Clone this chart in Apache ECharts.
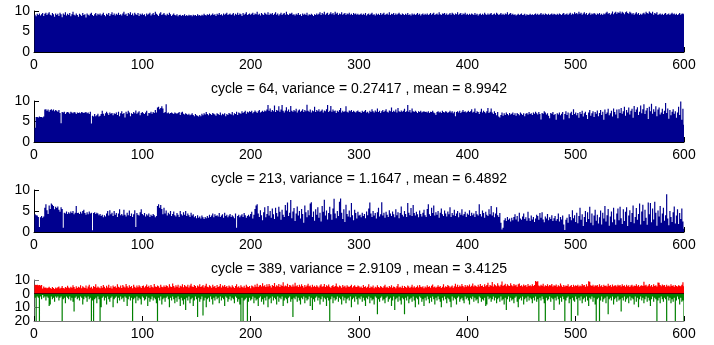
<!DOCTYPE html>
<html>
<head>
<meta charset="utf-8">
<script src="https://cdn.jsdelivr.net/npm/echarts@6/dist/echarts.min.js"></script>
<style>
  html, body { margin: 0; padding: 0; background: #fff; }
  #chart { width: 714px; height: 345px; }
</style>
</head>
<body>
<div id="chart"></div>
<script>
// xlabels under each of the first three panels
const labels = [
  'cycle = 64, variance = 0.27417 , mean = 8.9942',
  'cycle = 213, variance = 1.1647 , mean = 6.4892',
  'cycle = 389, variance = 2.9109 , mean = 3.4125'
];
const xTicks = [0, 100, 200, 300, 400, 500, 600];
// panel 4 y labels are absolute values, split over two axes so none gets hidden
const p4LabelsA = [10, -20];
const p4LabelsB = [0, -10];

// panel 1 (cycle 64)
const cycle64 = [
  9.1,8.7,9.3,9.0,9.4,8.9,9.2,9.5,8.8,9.3,9.6,9.0,9.4,9.7,9.1,8.9,9.5,9.2,8.6,9.4,
  9.0,9.3,8.8,9.6,9.2,8.5,9.4,9.1,9.7,8.9,9.3,9.0,9.5,8.7,9.2,9.8,9.1,8.9,9.4,9.0,
  8.6,9.3,9.1,8.8,9.5,9.0,9.2,8.4,9.4,9.1,8.9,9.3,9.6,9.0,8.8,9.2,9.5,8.9,9.3,9.1,
  9.4,8.9,9.2,9.6,9.0,8.7,9.3,9.1,9.5,8.8,9.2,9.7,9.0,9.4,8.9,9.3,9.1,9.6,9.0,9.2,
  8.9,9.4,9.8,9.1,9.3,8.8,9.5,9.2,9.7,9.0,9.4,8.9,9.6,9.2,9.0,9.5,8.8,9.3,9.1,9.4,
  9.0,9.2,8.7,9.4,9.1,9.3,9.6,8.9,9.2,9.5,9.0,9.8,9.3,9.1,8.8,9.4,9.7,9.0,9.2,9.5,
  9.1,8.9,9.3,9.0,9.6,9.2,8.8,9.1,9.4,9.0,8.9,9.2,8.7,9.0,9.1,8.8,9.0,8.9,9.2,8.8,
  9.0,8.8,9.1,8.9,9.0,8.7,9.1,8.9,9.0,8.8,9.2,8.9,9.0,8.8,9.1,8.9,9.3,9.0,8.9,9.2,
  9.0,9.3,8.9,9.1,9.4,9.0,9.2,8.8,9.3,9.1,9.5,9.0,9.2,8.9,9.4,9.1,9.3,9.6,9.0,9.2,
  9.4,9.0,9.2,9.5,8.9,9.3,9.1,9.6,9.0,9.4,9.2,8.8,9.5,9.1,9.3,9.7,9.0,9.2,9.4,9.1,
  9.3,9.6,9.0,9.4,9.2,9.8,9.1,9.3,8.9,9.5,9.2,9.0,9.6,9.3,9.1,9.7,9.0,9.4,9.2,9.5,
  9.0,9.3,9.7,9.1,9.4,8.9,9.2,9.6,9.0,9.3,9.5,9.1,9.8,9.2,9.0,9.4,9.3,9.6,9.1,9.2,
  8.9,9.3,9.1,9.5,9.0,9.2,8.8,9.4,9.1,9.3,9.0,9.6,8.9,9.2,9.0,9.3,9.1,8.8,9.2,9.0,
  9.4,9.1,9.3,9.7,9.0,9.5,9.2,9.8,9.1,9.4,9.6,9.0,9.3,9.7,9.2,9.5,9.1,9.8,9.3,9.6,
  9.0,9.4,9.2,9.7,9.1,9.3,9.5,9.0,9.4,9.2,9.6,9.1,9.3,9.0,9.5,9.2,9.4,9.1,9.3,9.0,
  9.2,9.4,9.0,9.3,9.1,9.5,8.9,9.2,9.4,9.0,9.3,9.6,9.1,9.2,8.9,9.4,9.1,9.3,9.0,9.5,
  9.1,9.3,9.6,9.0,9.2,9.4,9.1,9.7,9.0,9.3,9.2,9.5,9.0,9.4,9.1,9.3,9.6,9.2,9.0,9.4,
  9.2,9.0,9.3,9.1,9.5,9.0,9.2,8.9,9.4,9.1,9.3,9.0,9.2,9.5,9.1,9.3,8.9,9.2,9.4,9.0,
  9.3,9.1,9.4,9.0,9.2,9.5,9.1,9.3,9.6,9.0,9.2,9.4,9.1,9.7,9.2,9.0,9.4,9.3,9.5,9.1,
  9.4,9.0,9.2,9.5,9.1,9.6,9.3,9.0,9.4,9.2,9.7,9.1,9.3,9.5,9.0,9.4,9.2,9.6,9.1,9.3,
  9.0,9.3,9.1,9.4,9.2,9.0,9.5,9.1,9.3,8.9,9.2,9.4,9.0,9.3,9.1,9.6,9.2,9.0,9.4,9.1,
  9.3,9.5,9.0,9.2,9.4,9.1,9.6,9.3,9.0,9.2,9.5,9.1,9.3,9.0,9.4,9.2,9.7,9.1,9.3,9.5,
  9.1,9.3,9.0,9.2,8.9,9.1,9.3,9.0,9.2,9.4,9.0,9.1,9.3,8.9,9.2,9.0,9.1,9.3,9.0,9.2,
  9.0,9.2,9.4,9.1,9.3,9.0,9.2,9.5,9.1,9.3,9.0,9.4,9.2,9.1,9.3,9.0,9.2,9.4,9.1,9.3,
  9.2,9.0,9.3,9.1,9.4,9.2,9.0,9.3,9.5,9.1,9.2,9.4,9.0,9.3,9.6,9.1,9.4,9.2,9.7,9.3,
  9.5,9.2,9.8,9.3,9.6,9.1,9.4,9.7,9.2,9.5,9.0,9.3,9.6,9.1,9.4,9.2,9.5,9.3,9.0,9.4,
  9.2,9.5,9.1,9.3,9.0,9.4,9.2,9.6,9.8,9.3,9.5,9.1,9.4,9.9,9.2,9.6,9.8,9.3,9.7,9.5,
  9.9,9.4,9.8,9.6,9.2,9.7,9.9,9.5,9.3,9.8,9.6,9.2,9.5,9.1,9.4,9.7,9.2,9.5,9.0,9.3,
  9.1,9.4,9.6,9.2,9.8,9.5,9.3,9.9,9.6,9.4,9.8,9.1,9.5,9.3,9.7,9.0,9.2,9.4,9.1,9.3,
  9.0,9.3,9.5,9.1,9.2,9.4,9.0,9.3,9.6,9.2,9.4,9.1,9.3,9.0,9.2,9.5,9.1,9.3,9.4,9.2
];

// panel 2 (cycle 213)
const cycle213 = [
  3.5,6.1,6.1,6.0,6.2,6.1,6.1,6.0,6.2,7.9,8.0,7.6,7.9,7.4,7.8,8.0,7.7,7.9,7.5,7.8,
  7.6,7.4,7.8,7.1,4.6,7.3,7.2,7.4,6.8,7.2,7.3,7.2,6.9,7.4,7.2,7.0,7.3,7.2,6.8,7.2,
  7.1,7.2,7.0,7.3,7.2,7.1,7.2,7.3,7.0,7.2,6.8,7.4,4.5,6.4,6.2,6.8,6.3,6.5,6.9,6.2,
  6.4,6.8,7.6,6.9,6.4,7.0,7.4,7.0,6.6,7.2,6.9,7.1,6.5,7.0,6.8,7.2,6.6,7.4,6.3,7.0,
  7.5,6.8,7.1,6.0,7.4,6.9,7.6,7.2,6.3,7.0,6.8,7.3,7.0,7.7,6.9,7.2,7.5,6.5,7.1,7.3,
  7.0,6.8,7.2,7.6,6.4,7.1,7.0,7.4,6.9,7.3,7.1,7.8,7.2,8.4,8.6,8.0,8.3,8.7,8.2,7.1,
  7.3,9.2,7.0,7.2,6.9,7.1,7.2,7.0,6.8,7.2,7.0,6.9,7.1,7.3,6.6,7.2,7.4,6.9,6.7,7.0,
  6.8,6.6,6.9,6.5,6.7,7.0,6.6,6.3,6.8,6.5,6.4,6.2,6.6,6.3,6.9,6.5,7.0,6.7,7.3,6.8,
  6.5,7.0,6.8,6.6,7.1,6.9,6.7,6.4,7.0,6.8,6.6,7.2,6.5,6.9,6.7,7.0,6.3,6.8,6.6,7.1,
  6.9,6.7,7.3,6.5,7.0,6.8,7.4,6.6,7.2,7.0,6.9,7.5,7.1,7.3,7.6,6.9,7.4,7.2,7.5,7.3,
  7.6,7.0,7.3,7.7,7.4,7.1,7.5,7.8,7.2,7.4,7.6,7.3,7.7,7.5,7.9,9.0,7.6,8.2,7.4,7.8,
  7.5,8.9,7.3,7.8,7.6,8.7,7.4,7.9,9.0,7.6,7.2,7.7,8.5,7.5,7.9,7.3,8.8,7.6,7.4,7.8,
  7.5,8.1,7.2,7.7,7.9,7.4,7.6,8.0,7.3,7.8,7.5,9.1,7.6,7.4,7.9,7.2,7.7,7.5,8.6,7.3,
  7.8,7.5,8.0,7.4,7.6,7.9,7.2,7.7,7.5,8.0,9.0,7.3,7.6,8.8,7.4,7.9,7.5,7.7,7.1,7.6,
  7.4,7.8,8.3,7.2,7.6,7.3,7.5,8.7,7.4,7.2,7.7,7.5,7.8,7.3,7.6,7.4,7.2,7.5,7.7,7.3,
  7.4,7.1,7.6,7.3,7.5,7.8,7.2,7.4,7.0,7.6,7.3,8.0,7.5,7.2,7.7,7.4,8.2,7.3,7.6,7.1,
  7.5,7.8,7.3,7.6,8.0,7.4,7.2,7.7,7.5,8.4,7.3,7.6,7.4,7.9,7.2,8.3,7.5,7.3,7.7,7.4,
  7.6,8.1,7.3,7.5,9.0,7.4,7.8,7.2,8.2,7.5,7.3,7.6,7.4,7.1,7.5,7.3,7.6,7.2,7.4,7.5,
  7.3,7.4,7.2,7.5,7.1,7.4,7.3,7.6,7.2,7.0,6.6,7.3,7.5,7.2,7.4,7.1,7.6,7.3,7.2,7.5,
  7.4,7.1,7.3,7.6,7.2,7.5,7.0,7.4,6.3,7.3,7.5,7.2,7.6,7.1,7.4,7.8,7.3,7.5,7.2,7.4,
  7.6,7.3,7.5,8.0,7.2,7.4,8.2,7.1,7.5,7.3,6.8,7.4,8.1,7.2,7.6,7.3,7.0,7.5,8.3,7.1,
  7.4,8.2,7.2,6.8,7.5,7.1,6.5,7.3,6.2,6.0,6.6,7.2,6.4,7.0,6.6,7.2,6.8,6.5,7.1,6.7,
  6.9,7.2,6.6,7.0,6.4,7.1,6.8,6.5,7.2,6.9,6.6,7.0,6.3,6.9,7.1,6.7,7.3,6.8,7.0,6.6,
  7.2,6.9,7.4,7.0,6.7,7.3,6.8,5.5,7.1,6.9,7.5,7.2,6.7,7.0,6.4,5.8,7.1,6.9,7.3,6.6,
  6.8,5.4,7.0,6.7,7.2,6.5,6.9,7.3,5.5,6.8,7.5,6.6,7.2,5.8,7.0,7.4,6.6,8.0,6.8,7.2,
  6.5,7.1,5.9,7.3,6.8,7.6,6.2,7.0,7.4,6.6,5.6,7.2,7.8,6.4,7.0,7.5,6.1,7.3,6.9,7.7,
  6.3,7.1,7.8,6.6,7.4,5.4,7.9,6.8,7.2,8.1,6.5,7.0,7.6,6.2,8.2,7.3,6.7,7.9,5.8,8.0,
  7.1,8.3,6.9,7.5,8.6,6.4,7.8,7.2,8.4,6.7,7.6,8.1,5.9,8.8,7.3,7.9,8.5,6.6,7.4,8.9,
  7.0,8.0,9.2,6.8,7.7,8.3,5.6,8.6,7.5,9.3,6.9,8.0,7.4,8.7,6.3,7.9,8.4,6.7,7.2,8.1,
  6.8,7.6,9.5,7.1,8.2,5.7,7.8,6.5,7.4,8.0,6.9,7.5,5.9,7.2,8.6,6.6,9.9,5.4,8.1,4.2
];

// panel 3 (cycle 389)
const cycle389 = [
  4.2,4.0,3.9,3.6,1.2,3.5,3.8,3.4,3.7,5.8,6.6,5.2,4.3,6.3,5.5,6.8,6.5,6.2,5.4,6.0,
  5.7,6.1,5.3,4.8,5.9,5.5,1.0,4.6,4.4,4.9,4.3,4.7,4.4,4.9,4.5,5.0,4.2,4.6,6.2,4.5,
  4.6,4.3,4.8,4.4,5.0,5.3,4.5,4.1,4.7,4.2,4.9,4.4,4.6,0.4,4.5,4.7,4.3,4.6,4.4,4.0,
  4.3,3.8,4.1,3.5,4.0,3.7,4.4,5.0,3.9,5.2,4.2,4.6,3.8,5.0,4.1,4.5,3.6,4.4,5.4,4.0,
  4.3,3.9,5.3,4.1,3.7,4.6,4.0,5.1,3.8,4.4,3.6,4.2,5.2,1.2,4.5,4.1,3.9,4.7,5.4,4.3,
  4.0,4.5,3.7,4.2,3.9,4.4,3.6,4.1,3.8,4.3,4.0,3.5,3.8,6.2,6.6,5.8,6.4,5.5,4.2,5.8,
  4.4,5.1,3.9,4.6,4.2,5.0,3.8,4.3,4.9,4.0,3.7,4.5,4.1,3.6,5.0,4.2,3.9,4.7,4.1,5.0,
  3.8,4.4,4.0,3.6,4.6,3.9,4.2,3.5,3.8,3.3,4.0,3.4,3.7,3.2,3.9,3.5,3.1,3.6,3.3,3.8,
  3.4,4.1,3.6,3.9,4.4,3.5,4.2,3.8,4.0,3.7,4.5,3.6,3.9,4.2,3.4,4.6,3.8,4.1,3.5,3.9,
  4.3,3.6,4.0,3.7,3.3,4.4,1.0,3.8,4.1,3.5,3.9,4.2,3.6,4.5,4.0,3.4,3.8,4.1,3.7,4.3,
  4.8,3.2,4.1,5.5,6.3,6.6,4.4,3.6,5.2,4.0,2.8,4.7,5.9,3.5,4.3,6.2,3.9,5.0,3.4,5.6,
  4.2,3.1,5.8,4.5,3.7,6.0,4.8,2.9,5.3,4.1,3.6,6.4,5.1,7.0,3.8,4.6,7.6,3.3,4.9,5.7,
  2.6,4.4,6.1,3.9,5.0,3.2,5.5,4.3,2.2,6.3,4.7,3.5,5.2,4.0,6.8,7.1,3.6,4.9,2.7,5.4,
  4.1,5.9,3.4,4.6,2.5,6.2,4.8,7.7,3.9,5.1,3.0,4.5,6.0,4.2,2.9,5.6,7.9,4.4,3.3,5.0,
  3.8,7.2,8.0,4.6,3.1,5.4,2.4,6.5,4.3,3.7,5.1,3.5,6.9,4.0,2.8,5.3,4.5,3.2,4.8,3.9,
  4.1,3.5,4.6,3.8,4.3,3.3,4.9,4.0,5.6,7.0,4.4,3.6,5.0,3.9,4.5,3.2,4.7,5.8,3.7,4.2,
  7.1,3.9,4.6,3.4,4.8,4.1,3.6,5.2,4.4,3.8,4.9,4.2,3.5,5.4,4.0,4.7,3.3,4.5,6.1,4.1,
  3.7,5.0,4.3,3.6,6.9,4.6,4.0,5.7,3.8,6.4,4.5,3.9,4.8,4.2,3.5,5.1,4.3,3.7,4.6,5.3,
  4.0,3.6,5.5,6.6,4.2,3.8,5.8,4.5,6.3,3.9,4.7,4.1,5.0,3.4,4.6,5.6,4.2,3.8,5.1,4.4,
  3.7,4.9,4.2,5.9,3.6,4.5,4.0,5.3,3.8,4.4,5.0,3.5,4.6,4.1,5.4,3.9,4.3,4.8,3.6,4.4,
  4.1,5.2,3.8,4.6,4.0,4.4,3.6,5.0,4.2,3.9,6.6,4.3,3.7,5.1,4.5,3.4,4.8,4.1,3.8,5.4,
  4.2,6.2,3.9,4.7,3.5,4.4,5.9,4.0,3.6,4.5,2.2,0.6,1.0,2.8,3.3,2.6,3.6,2.9,3.2,2.5,
  3.4,2.8,3.6,4.2,3.0,3.8,2.5,4.6,3.2,2.9,3.7,4.4,3.1,3.5,2.7,4.8,3.3,2.6,3.9,3.0,
  3.6,2.4,3.2,4.1,3.8,2.9,4.5,3.4,4.7,3.0,2.3,3.7,3.2,4.3,2.8,3.5,3.1,4.0,2.6,3.3,
  3.8,2.7,3.1,4.4,2.5,3.6,3.0,3.9,1.8,0.5,2.9,3.4,2.2,4.2,3.6,2.8,5.2,3.3,4.0,2.4,
  4.6,2.1,3.8,5.8,2.9,4.2,1.4,3.6,5.0,2.4,4.7,3.1,6.0,2.2,4.4,1.6,3.9,5.3,2.7,4.1,
  2.0,3.5,5.1,1.8,4.6,3.2,6.2,2.5,4.0,5.5,1.5,3.7,4.9,2.3,5.8,3.0,1.7,4.4,5.6,2.8,
  6.0,3.3,1.9,5.4,2.6,4.8,5.9,1.4,3.9,5.2,2.4,4.5,6.3,2.1,3.6,5.7,2.9,4.3,6.8,1.8,
  4.9,6.5,2.6,5.3,3.4,1.7,7.0,4.2,6.9,2.3,5.6,3.0,7.2,4.6,1.5,5.1,3.7,6.2,2.2,4.4,
  5.8,2.7,4.0,9.0,3.2,1.6,5.0,3.6,2.4,4.7,6.1,2.0,3.9,5.4,1.9,4.5,3.1,5.6,2.5,0.8
];

// panel 4, upward (red) part
const upper = [
  6.5,6.3,6.6,6.2,6.4,6.0,6.4,3.8,5.2,4.3,4.6,3.9,4.4,5.0,4.1,3.6,4.8,4.2,3.5,4.5,
  4.0,4.7,5.3,3.8,4.4,5.6,4.1,3.7,4.9,4.3,5.8,4.6,3.9,5.1,4.4,6.1,4.8,3.6,5.4,4.2,
  5.0,4.5,6.2,3.9,5.5,4.7,4.1,5.9,3.8,5.2,6.5,4.4,5.0,3.7,5.6,4.9,6.8,4.3,5.3,4.6,
  3.9,5.7,4.4,6.3,5.1,4.0,5.8,4.6,6.6,4.2,5.4,3.8,6.0,4.9,5.5,4.3,6.9,5.0,4.5,5.9,
  4.1,6.4,5.2,4.6,7.0,5.5,4.3,6.1,4.8,5.7,4.0,6.5,5.1,4.4,5.9,4.7,6.2,5.3,4.2,5.6,
  6.0,4.5,5.4,6.7,4.9,5.8,4.3,6.3,5.0,4.6,7.1,5.2,4.8,6.0,5.5,4.4,6.6,5.1,4.7,5.9,
  4.9,6.2,5.6,4.5,6.8,5.3,4.8,7.4,5.7,4.6,6.1,5.0,6.6,4.4,5.8,5.2,6.9,4.7,6.3,5.4,
  5.1,6.5,4.6,5.9,7.2,5.3,4.9,6.4,5.6,4.3,6.0,5.2,6.8,4.8,5.5,6.3,4.5,5.8,7.3,5.0,
  4.7,6.1,5.4,4.4,6.6,5.0,5.7,4.2,6.3,4.9,5.5,7.0,4.6,5.9,5.2,6.4,4.8,5.6,4.3,6.0,
  5.3,4.5,6.2,5.0,4.1,5.7,6.8,4.7,5.4,4.4,6.1,5.1,4.6,5.8,4.3,6.5,5.2,4.8,5.6,4.0,
  6.0,5.4,4.7,6.6,5.1,7.2,4.8,5.9,6.4,5.2,7.6,5.5,6.1,4.9,6.8,5.3,7.0,5.8,4.6,6.3,
  5.6,7.8,5.0,6.2,5.4,7.1,4.9,6.5,5.7,8.4,5.2,6.0,5.5,7.3,4.8,6.4,5.9,5.1,6.7,5.3,
  7.9,5.5,6.1,4.8,6.6,5.2,6.9,5.7,4.5,6.3,5.0,5.9,7.2,5.4,6.0,4.7,6.5,5.1,5.8,4.9,
  6.2,5.3,4.6,5.9,6.8,5.0,5.5,7.0,4.8,6.1,5.4,6.7,5.1,4.4,5.7,6.3,4.9,5.6,7.4,5.2,
  4.7,6.0,5.5,4.3,6.4,5.1,5.8,4.6,6.2,5.3,4.9,5.7,6.6,4.5,5.4,6.1,5.0,4.8,5.9,5.5,
  4.6,5.2,4.1,6.3,4.8,5.5,4.4,5.0,6.8,4.2,5.3,4.7,5.9,4.0,5.1,4.5,6.1,4.9,4.3,5.6,
  4.8,4.2,5.4,6.6,4.5,5.0,4.1,5.7,4.7,6.2,4.3,5.2,4.9,4.0,5.5,7.0,4.6,5.1,4.4,5.8,
  4.2,5.6,4.9,4.4,6.0,5.3,4.1,5.0,6.5,4.6,5.4,4.3,4.8,5.9,4.5,6.4,5.1,4.7,5.5,4.0,
  5.2,4.6,6.1,4.9,5.5,4.3,5.8,6.7,4.7,5.3,4.4,5.0,6.2,4.8,5.6,4.2,5.1,6.9,4.5,5.4,
  4.9,6.3,5.7,4.6,5.2,6.0,4.4,5.5,7.2,5.0,6.6,4.8,5.9,5.3,7.0,5.6,4.7,6.4,5.1,6.1,
  5.4,6.7,5.0,5.8,7.4,5.3,6.2,5.6,4.9,6.5,5.2,7.1,5.7,6.0,4.8,6.8,5.5,6.3,7.9,5.1,
  6.4,5.8,8.6,5.3,6.9,6.1,5.5,7.6,6.0,5.2,6.6,8.9,5.7,6.3,7.2,5.4,6.8,6.0,5.6,7.7,
  6.2,5.5,7.0,5.9,6.5,5.1,6.8,7.4,5.6,6.1,5.3,6.7,5.8,6.4,5.0,7.1,5.7,6.2,5.4,6.9,
  5.6,6.3,9.3,8.8,9.1,6.0,5.4,6.6,5.8,7.3,5.2,6.1,5.7,6.9,5.5,6.4,5.9,7.0,5.3,6.2,
  5.8,6.7,5.1,6.2,5.5,7.5,5.9,4.8,6.4,5.3,6.0,5.6,6.8,5.0,5.7,6.3,4.9,6.6,5.4,6.1,
  5.7,6.5,5.2,6.0,5.5,7.0,5.9,6.3,5.0,6.8,5.4,9.0,8.7,6.2,5.6,6.6,5.3,6.1,5.8,6.4,
  5.1,6.9,5.5,6.2,4.9,6.5,5.7,6.0,5.3,7.2,5.6,6.3,5.0,6.7,5.4,5.9,6.1,5.2,6.6,5.8,
  6.4,5.3,6.8,5.7,6.1,5.0,6.6,5.5,6.2,4.8,5.9,6.5,5.2,6.0,5.6,6.9,5.4,6.3,5.1,5.8,
  6.2,5.6,8.8,5.9,6.5,5.3,6.0,7.1,5.5,6.4,5.0,6.8,5.7,6.1,5.2,8.2,7.9,6.3,5.4,6.7,
  5.9,6.3,5.1,6.6,5.5,6.0,5.3,6.8,5.6,6.2,5.0,6.4,5.7,5.2,6.1,5.8,5.4,6.5,8.4,5.5
];

// panel 4, downward (green) part
const lower = [
  -3,-20,-2,-3,-20,-2,-4,-1,-3,-2,-5,-2,-3,-9,-8,-2,-4,-3,-6,-2,
  -3,-2,-5,-3,-2,-20,-4,-3,-7,-2,-3,-4,-2,-5,-3,-6,-13,-3,-2,-4,
  -3,-5,-2,-3,-8,-4,-2,-3,-6,-2,-4,-3,-20,-5,-20,-4,-3,-7,-2,-4,
  -20,-10,-3,-2,-5,-3,-8,-2,-4,-6,-3,-2,-10,-4,-3,-2,-7,-3,-5,-2,
  -4,-3,-6,-2,-3,-9,-4,-2,-5,-3,-20,-4,-3,-7,-2,-5,-3,-4,-8,-2,
  -3,-5,-4,-2,-9,-3,-6,-4,-2,-5,-3,-4,-7,-20,-3,-5,-2,-8,-4,-3,
  -6,-3,-2,-4,-10,-3,-5,-2,-4,-7,-3,-6,-2,-4,-9,-3,-5,-8,-4,-12,
  -3,-5,-2,-7,-4,-3,-9,-5,-2,-4,-17,-3,-6,-4,-2,-16,-5,-3,-10,-4,
  -3,-6,-2,-4,-8,-3,-5,-2,-4,-3,-7,-2,-5,-3,-4,-9,-2,-3,-6,-4,
  -2,-5,-3,-4,-7,-2,-3,-6,-4,-8,-20,-3,-20,-5,-4,-3,-20,-6,-3,-5,
  -4,-2,-7,-3,-5,-4,-9,-3,-2,-6,-4,-8,-3,-5,-2,-10,-4,-3,-7,-2,
  -5,-3,-4,-8,-2,-6,-3,-4,-2,-9,-5,-3,-4,-7,-3,-2,-6,-4,-17,-3,
  -4,-2,-6,-3,-5,-8,-3,-4,-2,-7,-3,-5,-4,-2,-9,-3,-12,-4,-6,-3,
  -2,-5,-3,-8,-4,-2,-6,-3,-4,-9,-3,-5,-20,-4,-2,-7,-3,-5,-4,-2,
  -6,-3,-4,-8,-2,-5,-3,-7,-4,-3,-5,-2,-10,-4,-3,-6,-2,-4,-8,-3,
  -4,-2,-6,-3,-5,-9,-3,-4,-2,-7,-3,-5,-4,-8,-2,-3,-15,-4,-6,-3,
  -2,-5,-4,-7,-3,-2,-6,-4,-3,-9,-5,-2,-12,-4,-3,-6,-2,-5,-8,-3,
  -4,-15,-3,-5,-2,-7,-4,-3,-6,-2,-5,-10,-3,-4,-8,-2,-3,-6,-4,-9,
  -3,-5,-2,-4,-7,-3,-6,-2,-4,-8,-3,-5,-2,-4,-6,-10,-3,-5,-2,-4,
  -7,-3,-4,-6,-10,-2,-5,-3,-4,-8,-3,-2,-6,-4,-3,-5,-7,-2,-4,-3,
  -5,-8,-3,-4,-2,-6,-3,-5,-4,-7,-2,-3,-6,-4,-5,-3,-9,-8,-2,-4,
  -3,-6,-4,-2,-5,-3,-7,-4,-3,-6,-2,-5,-4,-8,-3,-12,-4,-2,-6,-3,
  -5,-4,-7,-3,-2,-6,-10,-4,-3,-5,-2,-8,-4,-3,-6,-2,-5,-3,-4,-7,
  -3,-5,-2,-6,-4,-20,-3,-5,-2,-4,-7,-20,-3,-5,-4,-2,-6,-3,-4,-12,
  -3,-5,-2,-4,-8,-3,-6,-2,-4,-20,-5,-3,-2,-7,-4,-20,-3,-5,-6,-2,
  -4,-16,-3,-5,-2,-7,-4,-3,-6,-2,-5,-9,-3,-4,-2,-6,-3,-8,-20,-4,
  -3,-20,-5,-2,-6,-4,-3,-7,-2,-15,-4,-3,-5,-2,-8,-4,-3,-6,-2,-5,
  -4,-13,-3,-5,-2,-6,-4,-3,-7,-2,-5,-3,-4,-8,-2,-6,-3,-10,-4,-2,
  -5,-3,-7,-4,-2,-6,-3,-5,-9,-4,-2,-6,-3,-4,-20,-5,-3,-7,-2,-4,
  -6,-3,-4,-20,-2,-5,-3,-7,-4,-6,-3,-20,-5,-2,-4,-8,-3,-6,-5,-20
];

const navy = '#00008f';
const font = 'Liberation Sans, Arial, Helvetica, sans-serif';

// bar k sits at x = k (1..600), like matlab's bar(y)
const pairs = arr => arr.map((v, i) => [i + 1, v]);

const grids = [
  { left: 34, width: 650, top: 11, height: 41 },
  { left: 34, width: 650, top: 101, height: 41 },
  { left: 34, width: 650, top: 190, height: 42 },
  { left: 34, width: 650, top: 280, height: 41 }
];

const xAxes = grids.map((g, k) => ({
  type: 'value',
  gridIndex: k,
  min: xTicks[0],
  max: xTicks[xTicks.length - 1],
  interval: 100,
  name: labels[k] || '',
  nameLocation: 'middle',
  nameGap: 30,
  nameTextStyle: { fontSize: 14, color: '#000', fontFamily: font },
  axisLine: { onZero: false, lineStyle: { color: k === 3 ? '#777' : '#000', width: 1 } },
  axisTick: { inside: true, length: 5, lineStyle: { color: '#000' } },
  axisLabel: { fontSize: 14, color: '#000', margin: 6, fontFamily: font },
  splitLine: { show: false }
}));

const labelStyle = { fontSize: 14, color: '#000', margin: 4, fontFamily: font };

const yAxes = grids.map((g, k) => ({
  type: 'value',
  gridIndex: k,
  min: k === 3 ? -20 : 0,
  max: 10,
  interval: k === 3 ? 10 : 5,
  axisLine: { show: true, lineStyle: { color: k === 3 ? '#555' : '#000', width: 1 } },
  axisTick: { show: true, inside: true, length: 5, lineStyle: { color: k === 3 ? '#777' : '#000' } },
  axisLabel: Object.assign({}, labelStyle, {
    showMinLabel: true,
    showMaxLabel: true,
    formatter: v => (k !== 3 || p4LabelsA.indexOf(v) >= 0) ? String(Math.abs(v)) : ''
  }),
  splitLine: { show: false }
}));
// second, line-less axis on panel 4 carrying the inner labels
yAxes.push({
  type: 'value',
  gridIndex: 3,
  position: 'left',
  min: -20,
  max: 10,
  interval: 10,
  axisLine: { show: false },
  axisTick: { show: false },
  axisLabel: Object.assign({}, labelStyle, {
    formatter: v => p4LabelsB.indexOf(v) >= 0 ? String(Math.abs(v)) : ''
  }),
  splitLine: { show: false }
});

// large mode fills all bars as one path, so no seams between 1px bars
const bar = (k, data, color, extra) => Object.assign({
  type: 'bar',
  xAxisIndex: k,
  yAxisIndex: k,
  data: pairs(data),
  barWidth: 1.2,
  large: true,
  largeThreshold: 100,
  itemStyle: { color: color },
  silent: true
}, extra || {});

const chart = echarts.init(document.getElementById('chart'));
chart.setOption({
  animation: false,
  backgroundColor: '#fff',
  grid: grids,
  xAxis: xAxes,
  yAxis: yAxes,
  series: [
    bar(0, cycle64, navy),
    bar(1, cycle213, navy),
    bar(2, cycle389, navy),
    bar(3, upper, '#ff0000', {
      barGap: '-100%',
      markLine: {
        silent: true,
        symbol: ['none', 'none'],
        label: { show: false },
        lineStyle: { color: '#400000', width: 1, type: 'solid' },
        data: [{ yAxis: 0 }]
      }
    }),
    bar(3, lower, '#008000', { barGap: '-100%' })
  ]
});
</script>
</body>
</html>
